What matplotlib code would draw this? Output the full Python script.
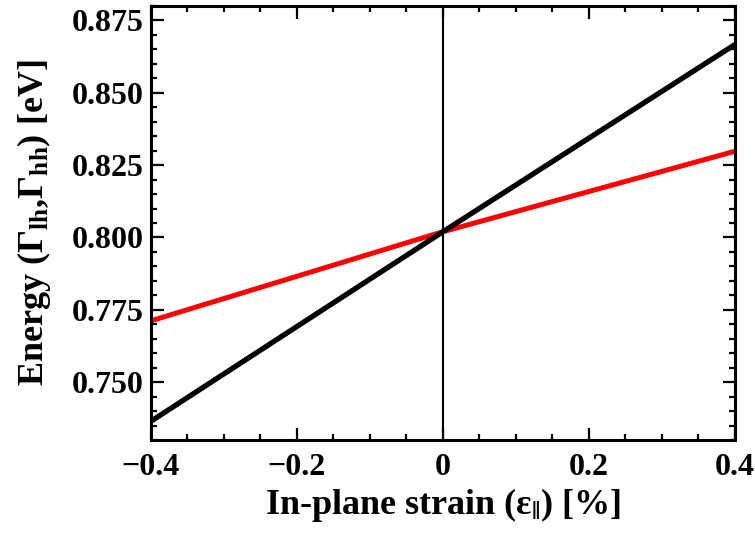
import matplotlib
matplotlib.use("Agg")
import matplotlib.pyplot as plt
from matplotlib.ticker import MultipleLocator, FuncFormatter

plt.rcParams['font.family'] = ['Liberation Serif', 'DejaVu Serif']
plt.rcParams['font.weight'] = 'bold'
plt.rcParams['mathtext.fontset'] = 'custom'
plt.rcParams['mathtext.rm'] = 'Liberation Serif:bold'
plt.rcParams['mathtext.bf'] = 'Liberation Serif:bold'
plt.rcParams['mathtext.it'] = 'Liberation Serif:bold'
plt.rcParams['mathtext.default'] = 'bf'

# Data
strain = [-0.4, 0.0, 0.4]
energy_hh = [0.7365, 0.8020, 0.8667]   # black
energy_lh = [0.7712, 0.8020, 0.8298]   # red
xticks = [-0.4, -0.2, 0.0, 0.2, 0.4]
yticks = [0.750, 0.775, 0.800, 0.825, 0.850, 0.875]

fig = plt.figure(figsize=(7.55, 5.37), dpi=100)
ax = fig.add_axes([0.2, 0.1806, 0.7735, 0.8082])

ax.axvline(0, color='black', lw=1.5, zorder=1)
ax.plot(strain, energy_lh, color='#ff0000', lw=3.6, solid_capstyle='butt', zorder=2)
ax.plot(strain, energy_hh, color='black', lw=3.8, solid_capstyle='butt', zorder=3)

ax.set_xlim(-0.4, 0.4)
ax.set_ylim(0.730, 0.880)
ax.set_xticks(xticks)
ax.set_yticks(yticks)
ax.xaxis.set_minor_locator(MultipleLocator(0.05))
ax.yaxis.set_minor_locator(MultipleLocator(0.005))

def xfmt(v, pos):
    if abs(v) < 1e-9:
        return '0'
    return f'{v:.1f}'.replace('-', '\u2212')
ax.xaxis.set_major_formatter(FuncFormatter(xfmt))
ax.yaxis.set_major_formatter(FuncFormatter(lambda v, p: f'{v:.3f}'))

for s in ax.spines.values():
    s.set_linewidth(2.2)
ax.tick_params(which='both', direction='in', top=True, right=True, width=1.6)
ax.tick_params(which='major', length=9, labelsize=23)
ax.tick_params(axis='x', which='major', pad=9)
ax.tick_params(axis='y', which='major', pad=5)
ax.tick_params(which='minor', length=4.5)
for lab in ax.get_xticklabels() + ax.get_yticklabels():
    lab.set_fontweight('bold')

ax.set_xlabel(r'In-plane strain ($\varepsilon_{\|}$) [%]', fontsize=26, fontweight='bold', labelpad=3)
ax.set_ylabel(r'Energy ($\Gamma_{lh}$,$\Gamma_{hh}$) [eV]', fontsize=26, fontweight='bold', labelpad=14)

fig.savefig('out.png', dpi=100)
